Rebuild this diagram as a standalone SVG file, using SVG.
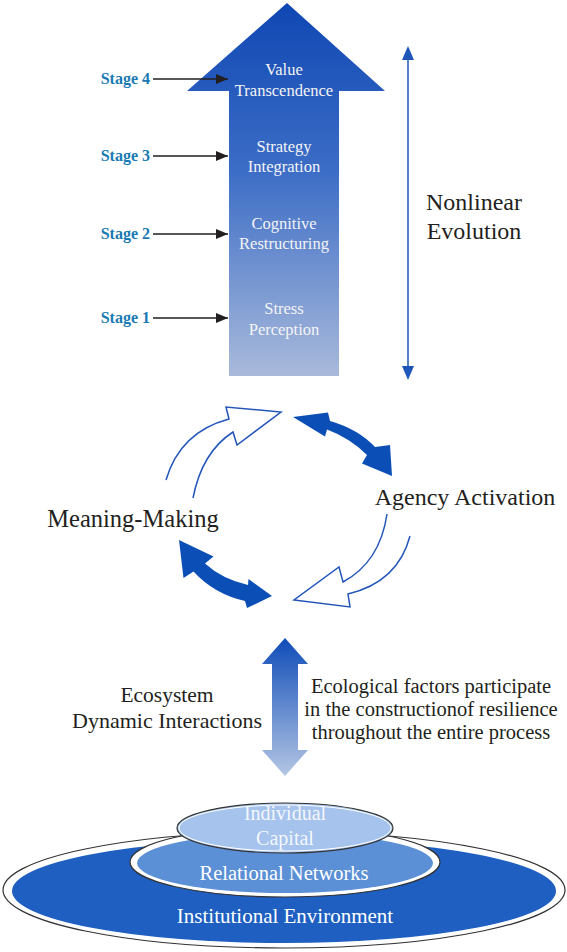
<svg xmlns="http://www.w3.org/2000/svg" width="567" height="952" viewBox="0 0 567 952">
<defs>
<linearGradient id="gMain" x1="0" y1="0" x2="0" y2="1">
<stop offset="0" stop-color="#0f47b3"/>
<stop offset="0.45" stop-color="#3c6dc6"/>
<stop offset="1" stop-color="#a9badb"/>
</linearGradient>
<linearGradient id="gEco" x1="0" y1="0" x2="0" y2="1">
<stop offset="0" stop-color="#0f4cb8"/>
<stop offset="1" stop-color="#b4c6e4"/>
</linearGradient>
<marker id="mBlack" markerWidth="12" markerHeight="10" refX="12" refY="5" orient="auto" markerUnits="userSpaceOnUse">
<path d="M0,0 L12,5 L0,10 Z" fill="#231f20"/>
</marker>
</defs>
<style>
text{font-family:'Liberation Serif','Times New Roman','DejaVu Serif',serif}
.inner{font-size:16.5px;fill:#f4f4f4;text-anchor:middle}
.stage{font-size:16px;font-weight:bold;fill:#1a7ab3;text-anchor:end}
.lbl{fill:#231f20;text-anchor:middle}
.ell{fill:#ffffff;text-anchor:middle}
.stageArrow{stroke:#231f20;stroke-width:1.3;fill:none}
.open{fill:#ffffff;stroke:#2356b8;stroke-width:1.5;stroke-linejoin:miter}
.thick{fill:#0b4fb6}
</style>

<g id="stages-arrow">
<path d="M187,91 L287,3 L385,91 L339,91 L339,376 L229,376 L229,91 Z" fill="url(#gMain)"/>
<text class="inner" x="284" y="75">Value</text>
<text class="inner" x="284" y="96">Transcendence</text>
<text class="inner" x="284" y="152">Strategy</text>
<text class="inner" x="284" y="172">Integration</text>
<text class="inner" x="284" y="229">Cognitive</text>
<text class="inner" x="284" y="249">Restructuring</text>
<text class="inner" x="284" y="314">Stress</text>
<text class="inner" x="284" y="335">Perception</text>
</g>

<g id="stage4"><text class="stage" x="150" y="84">Stage 4</text></g>
<g id="stage3"><text class="stage" x="150" y="161">Stage 3</text></g>
<g id="stage2"><text class="stage" x="150" y="239">Stage 2</text></g>
<g id="stage1"><text class="stage" x="150" y="323">Stage 1</text></g>

<g id="nonlinear-evolution">
<text class="lbl" x="474" y="210" font-size="24">Nonlinear</text>
<text class="lbl" x="474" y="239" font-size="24">Evolution</text>
</g>

<g id="agency-activation"><text class="lbl" x="465" y="505" font-size="24">Agency Activation</text></g>
<g id="meaning-making"><text class="lbl" x="133" y="527" font-size="24.5">Meaning-Making</text></g>

<g id="ecosystem-label">
<text class="lbl" x="167" y="702" font-size="21.5">Ecosystem</text>
<text class="lbl" x="167" y="728" font-size="22">Dynamic Interactions</text>
</g>
<g id="ecological-label">
<text class="lbl" x="431" y="693" font-size="20.5">Ecological factors participate</text>
<text class="lbl" x="431" y="716" font-size="20.5">in the constructionof resilience</text>
<text class="lbl" x="431" y="739" font-size="20.5">throughout the entire process</text>
</g>

<g id="ecosystem-levels">
<g id="institutional-environment">
<ellipse cx="284" cy="890" rx="281" ry="58" fill="#ffffff" stroke="#333333" stroke-width="1.2"/>
<ellipse cx="284" cy="891" rx="272" ry="52" fill="#1e5fc1"/>
<text class="ell" x="285" y="923" font-size="21">Institutional Environment</text>
</g>
<g id="relational-networks">
<ellipse cx="285" cy="862" rx="155" ry="35" fill="#ffffff" stroke="#333333" stroke-width="1.2"/>
<ellipse cx="285" cy="863" rx="148" ry="30" fill="#5b8fd6"/>
<text class="ell" x="284" y="880" font-size="20.5">Relational Networks</text>
</g>
<g id="individual-capital">
<ellipse cx="285" cy="828" rx="108" ry="25" fill="#a5c3ec" stroke="#333333" stroke-width="1.2"/>
<ellipse cx="285" cy="828" rx="106" ry="23" fill="none" stroke="#ffffff" stroke-width="1"/>
<text class="ell" x="285" y="820" font-size="20" fill-opacity="0.9">Individual</text>
<text class="ell" x="285" y="845" font-size="20" fill-opacity="0.9">Capital</text>
</g>
</g>

<g id="connectors">
<line class="stageArrow" x1="153" y1="79" x2="228" y2="79" marker-end="url(#mBlack)"/>
<line class="stageArrow" x1="153" y1="156" x2="228" y2="156" marker-end="url(#mBlack)"/>
<line class="stageArrow" x1="153" y1="234" x2="228" y2="234" marker-end="url(#mBlack)"/>
<line class="stageArrow" x1="153" y1="318" x2="228" y2="318" marker-end="url(#mBlack)"/>

<line x1="408" y1="60" x2="408" y2="368" stroke="#1f56ba" stroke-width="1.5"/>
<path d="M408,46 L402,60 L414,60 Z" fill="#1f56ba"/>
<path d="M408,380 L402,366 L414,366 Z" fill="#1f56ba"/>

<path class="open" d="M166,480 Q180,432 229,419 L226,407 L281,412 L237,445 L233,432 Q202,452 193,498"/>
<path class="open" d="M410,536 Q398,582 348,594 L350,607 L294,600 L339,567 L343,582 Q380,562 387,514"/>

<path class="thick" d="M293,417 L328,412.5 L330,421 Q358,429 375,447 L390,445 L392,476 L362,463.5 L367,455 Q350,438 327,429.5 L325,436.5 Z"/>
<path class="thick" d="M179,540 L213.5,556.5 L205,563.5 Q222,579 248,585 L248.5,579 L272,596 L247,608 L245,601 Q214,594 193.5,571.5 L183.5,578 Z"/>

<path d="M285,638 L308,664 L298,664 L298,750 L308,750 L285,776 L262,750 L272,750 L272,664 L262,664 Z" fill="url(#gEco)"/>
</g>
</svg>
